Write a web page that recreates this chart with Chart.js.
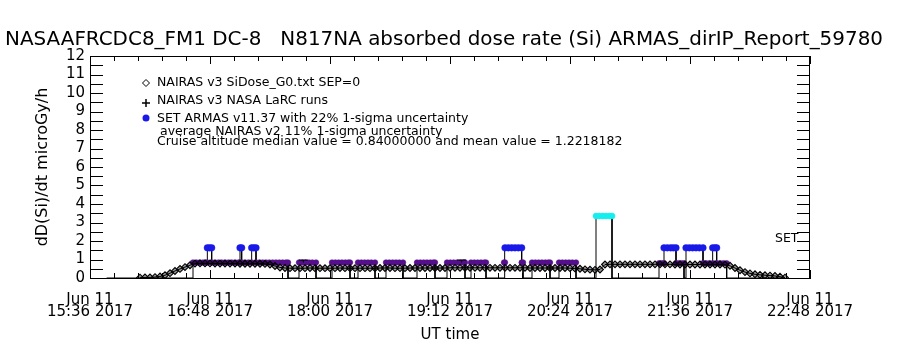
<!DOCTYPE html>
<html><head><meta charset="utf-8">
<script src="https://cdn.jsdelivr.net/npm/chart.js@4.4.1/dist/chart.umd.min.js"></script>
<style>html,body{margin:0;padding:0;background:#fff}#c{display:block}</style>
</head><body>
<div style="width:900px;height:350px"><canvas id="c" width="900" height="350"></canvas></div>
<script>
// ---------- texts ----------
const titleText = "NASAAFRCDC8_FM1 DC-8   N817NA absorbed dose rate (Si) ARMAS_dirIP_Report_59780";
const yTitle = "dD(Si)/dt microGy/h";
const xTitle = "UT time";
const setLabel = "SET";
const legendLines = [
  "NAIRAS v3 SiDose_G0.txt SEP=0",
  "NAIRAS v3 NASA LaRC runs",
  "SET ARMAS v11.37 with 22% 1-sigma uncertainty",
  "average NAIRAS v2 11% 1-sigma uncertainty",
  "Cruise altitude median value = 0.84000000 and mean value = 1.2218182"
];
// ---------- axes (x in minutes after Jun 11 15:36 UT) ----------
const xTickMinutes = [0, 72, 144, 216, 288, 360, 432];
const xTickLabels = [
  ["Jun 11", "15:36 2017"], ["Jun 11", "16:48 2017"], ["Jun 11", "18:00 2017"],
  ["Jun 11", "19:12 2017"], ["Jun 11", "20:24 2017"], ["Jun 11", "21:36 2017"],
  ["Jun 11", "22:48 2017"]
];
const yTickValues = [0,1,2,3,4,5,6,7,8,9,10,11,12];

// ---------- NAIRAS v3 SiDose_G0 (diamonds) ----------
const g0Time = [30,33,36,39,42,45,48,51,54,57,60,63,66,69,72,75,78,81,84,87,90,93,96,99,102,105,108,111,114,117,
  120,123,126,129,132,135,138,141,144,147,150,153,156,159,162,165,168,171,174,177,180,183,186,189,192,195,198,201,204,207,
  210,213,216,219,222,225,228,231,234,237,240,243,246,249,252,255,258,261,264,267,270,273,276,279,282,285,288,291,294,297,
  300,303,306,309,312,315,318,321,324,327,330,333,336,339,342,345,348,351,354,357,360,363,366,369,372,375,378,381,384,387,
  390,393,396,399,402,405,408,411,414,417];
const g0Dose = [0.02,0.03,0.03,0.05,0.08,0.15,0.26,0.38,0.49,0.59,0.69,0.78,0.79,0.79,0.79,0.78,0.78,0.78,0.78,0.78,0.77,0.77,0.77,0.77,0.77,0.76,0.73,0.65,0.57,0.54,
  0.53,0.53,0.53,0.53,0.54,0.53,0.53,0.53,0.53,0.53,0.54,0.53,0.53,0.53,0.53,0.53,0.53,0.53,0.54,0.54,0.54,0.53,0.53,0.53,0.54,0.54,0.54,0.54,0.54,0.54,
  0.54,0.54,0.55,0.55,0.55,0.55,0.55,0.55,0.55,0.55,0.55,0.55,0.55,0.55,0.55,0.55,0.55,0.55,0.54,0.54,0.54,0.54,0.54,0.54,0.54,0.54,0.53,0.52,0.50,0.47,
  0.45,0.44,0.46,0.73,0.74,0.74,0.74,0.74,0.74,0.74,0.74,0.74,0.74,0.74,0.74,0.74,0.74,0.73,0.73,0.73,0.73,0.73,0.73,0.73,0.73,0.73,0.73,0.72,0.66,0.54,
  0.42,0.32,0.25,0.20,0.17,0.15,0.13,0.11,0.07,0.02];

// ---------- NAIRAS v3 NASA LaRC runs ----------
const larcTime = [128, 223];
const larcDose = [0.97, 0.97];
const larcBase = 0.84;

// ---------- SET ARMAS v11.37 [minute, dose] ----------
const armasSamples = [[10,0],
  [61.8,0],[61.8,0.84],[63.8,0.84],[65.8,0.84],[67.8,0.84],[69.4,0.84],[70.4,0.84],
  [70.4,1.63],[71.7,1.63],[73,1.63],
  [73,0.84],[75,0.84],[77,0.84],[79,0.84],[81,0.84],[83,0.84],[85,0.84],[87,0.84],[89,0.84],[90,0.84],
  [90,1.63],[91,1.63],
  [91,0.84],[93,0.84],[95,0.84],[97,0.84],
  [97,1.63],[98.3,1.63],[99.6,1.63],
  [99.6,0.84],[101.6,0.84],[103.6,0.84],[105.6,0.84],[107.6,0.84],[109.6,0.84],[111.6,0.84],[113.6,0.84],[115.6,0.84],[117.6,0.84],[118.8,0.84],[118.8,0],
  [125.4,0],[125.4,0.84],[127.4,0.84],[129.4,0.84],[131.4,0.84],[133.4,0.84],[135.6,0.84],[135.6,0],
  [145.2,0],[145.2,0.84],[147.2,0.84],[149.2,0.84],[151.2,0.84],[153.2,0.84],[155,0.84],[156,0.84],[156,0],
  [160.8,0],[160.8,0.84],[162.8,0.84],[164.8,0.84],[166.8,0.84],[168.8,0.84],[171,0.84],[171,0],
  [177.6,0],[177.6,0.84],[179.6,0.84],[181.6,0.84],[183.6,0.84],[185.6,0.84],[187.8,0.84],[187.8,0],
  [196.2,0],[196.2,0.84],[198.2,0.84],[200.2,0.84],[202.2,0.84],[204.2,0.84],[206,0.84],[207,0.84],[207,0],
  [214.2,0],[214.2,0.84],[216.2,0.84],[218.2,0.84],[220.2,0.84],[222.2,0.84],[224,0.84],[225,0.84],[225,0],
  [228.6,0],[228.6,0.84],[230.6,0.84],[232.6,0.84],[234.6,0.84],[236.6,0.84],[237.6,0.84],[237.6,0],
  [248.4,0],[248.4,0.84],[249,0.84],[249,1.63],[251,1.63],[253,1.63],[255,1.63],[257,1.63],[259,1.63],[259,0.84],[259.8,0.84],[259.8,0],
  [265.2,0],[265.2,0.84],[267.2,0.84],[269.2,0.84],[271.2,0.84],[273.2,0.84],[275,0.84],[276,0.84],[276,0],
  [281.4,0],[281.4,0.84],[283.4,0.84],[285.4,0.84],[287.4,0.84],[289.4,0.84],[291.6,0.84],[291.6,0],
  [303.6,0],[303.6,3.35],[305.6,3.35],[307.6,3.35],[309.6,3.35],[311.6,3.35],[313.2,3.35],[313.2,0],
  [341.4,0],[341.4,0.8],[343,0.8],[344.4,0.8],[344.4,1.63],[346.4,1.63],[348.4,1.63],[350,1.63],[351.6,1.63],
  [351.6,0.8],[353.2,0.8],[354.8,0.8],[356.4,0.8],[356.4,0],
  [357.6,0],[357.6,1.63],[359.6,1.63],[361.6,1.63],[363.6,1.63],[365.6,1.63],[367.8,1.63],
  [367.8,0.8],[369.6,0.8],[371.6,0.8],[373.6,0.8],[373.6,1.63],[375,1.63],[376,1.63],
  [376,0.8],[378,0.8],[380,0.8],[382,0.8],[382,0],
  [416,0]];

// ---------- styling ----------
const FONT = "'DejaVu Sans', sans-serif";
const PURPLE = 'rgb(85,15,140)', BLUE = 'rgb(25,25,232)', CYAN = 'rgb(20,238,238)';
function doseColor(v){ return v > 2.5 ? CYAN : (v > 1.2 ? BLUE : PURPLE); }
function doseRadius(v){ return v > 2.5 ? 3 : (v > 1.2 ? 3.3 : (v > 0 ? 2.8 : 0)); }

Chart.defaults.font.family = FONT;
Chart.defaults.color = '#000';

const g0Data = g0Time.map((t, i) => ({x: t, y: g0Dose[i]}));
const armasData = armasSamples.map(p => ({x: p[0], y: p[1]}));
const larcData = [];
larcTime.forEach((t, i) => {
  if (i > 0) larcData.push({x: t - 1, y: null});
  larcData.push({x: t, y: larcBase});
  larcData.push({x: t, y: larcDose[i]});
});

const framePlugin = {
  id: 'frame',
  afterDraw(chart) {
    const ctx = chart.ctx, a = chart.chartArea, xs = chart.scales.x, ys = chart.scales.y;
    ctx.save();
    ctx.strokeStyle = '#000'; ctx.lineWidth = 1;
    ctx.beginPath();
    ctx.moveTo(a.left, a.top + 0.5); ctx.lineTo(a.right, a.top + 0.5);
    ctx.moveTo(a.right - 0.5, a.top); ctx.lineTo(a.right - 0.5, a.bottom);
    for (let k = 0; k <= 30; k++) {
      const v = k * 14.4;
      const px = Math.round(xs.getPixelForValue(v)) + 0.5;
      const len = (k % 5 === 0) ? 8 : 5;
      ctx.moveTo(px, a.top); ctx.lineTo(px, a.top + len);
      ctx.moveTo(px, a.bottom); ctx.lineTo(px, a.bottom - len);
    }
    for (let k = 0; k <= 24; k++) {
      const py = Math.round(ys.getPixelForValue(k * 0.5)) + 0.5;
      ctx.moveTo(a.left, py); ctx.lineTo(a.left + 13, py);
      ctx.moveTo(a.right, py); ctx.lineTo(a.right - 13, py);
    }
    ctx.stroke();

    // title (fitted to the reference width)
    ctx.fillStyle = '#000';
    ctx.font = "20px " + FONT;
    const tw = ctx.measureText(titleText).width;
    ctx.save(); ctx.translate(5, 45); ctx.scale(878 / tw, 1);
    ctx.textBaseline = 'alphabetic'; ctx.fillText(titleText, 0, 0); ctx.restore();

    // legend
    ctx.font = "12.5px " + FONT;
    ctx.textBaseline = 'alphabetic';
    const lx = [157, 157, 157, 160, 157];
    const ly = [85.5, 103.5, 122, 135, 144.5];
    legendLines.forEach((s, i) => ctx.fillText(s, lx[i], ly[i]));
    ctx.beginPath();
    ctx.moveTo(146, 79.5); ctx.lineTo(149.5, 83); ctx.lineTo(146, 86.5); ctx.lineTo(142.5, 83); ctx.closePath();
    ctx.stroke();
    ctx.beginPath();
    ctx.lineWidth = 1.5;
    ctx.moveTo(142, 103); ctx.lineTo(150, 103); ctx.moveTo(146, 99); ctx.lineTo(146, 107);
    ctx.stroke();
    ctx.fillStyle = BLUE;
    ctx.beginPath(); ctx.arc(146, 118, 3.5, 0, Math.PI * 2); ctx.fill();
    ctx.fillStyle = '#000';
    ctx.font = "12.5px " + FONT;
    ctx.fillText(setLabel, 775, 242);
    ctx.restore();
  }
};

new Chart(document.getElementById('c'), {
  type: 'line',
  data: {
    datasets: [
      {
        label: legendLines[2], data: armasData, order: 2,
        borderColor: '#000', borderWidth: 1, tension: 0,
        pointRadius: c => doseRadius(c.raw ? c.raw.y : 0),
        pointBackgroundColor: c => doseColor(c.raw ? c.raw.y : 0),
        pointBorderColor: c => doseColor(c.raw ? c.raw.y : 0),
        pointBorderWidth: 0.5, pointHoverRadius: 0
      },
      {
        label: legendLines[0], data: g0Data, order: 1,
        borderColor: '#000', borderWidth: 1, tension: 0,
        pointStyle: 'rectRot', pointRadius: 3.4, pointBorderWidth: 1.1,
        pointBorderColor: '#000', pointBackgroundColor: 'rgba(0,0,0,0.4)'
      },
      {
        label: legendLines[1], data: larcData, order: 0, spanGaps: false,
        borderColor: '#000', borderWidth: 1,
        pointStyle: 'line', pointBorderColor: '#000', pointBorderWidth: 1,
        pointRadius: c => (c.raw && c.raw.y > larcBase) ? 4.5 : 0
      }
    ]
  },
  options: {
    responsive: false, animation: false, devicePixelRatio: 1,
    layout: { padding: { left: 0, right: 90, top: 56, bottom: 0 } },
    plugins: { legend: { display: false }, title: { display: false }, tooltip: { enabled: false } },
    events: [],
    scales: {
      x: {
        type: 'linear', min: 0, max: 432,
        afterBuildTicks: s => { s.ticks = xTickMinutes.map(v => ({ value: v })); },
        afterFit: s => { s.height = 72; },
        ticks: {
          autoSkip: false, maxRotation: 0, minRotation: 0, padding: 16, color: '#000',
          font: { family: FONT, size: 15, lineHeight: 0.82 },
          callback: v => { const i = xTickMinutes.indexOf(v); return i >= 0 ? xTickLabels[i] : ''; }
        },
        grid: { display: false, drawTicks: false },
        border: { display: true, color: '#000', width: 1 },
        title: { display: true, text: xTitle, color: '#000', font: { family: FONT, size: 15 }, padding: { top: 0, bottom: 6 } }
      },
      y: {
        type: 'linear', min: 0, max: 12,
        afterBuildTicks: s => { s.ticks = yTickValues.map(v => ({ value: v })); },
        afterFit: s => { s.width = 90; },
        ticks: { autoSkip: false, padding: 5, color: '#000', font: { family: FONT, size: 15 } },
        grid: { display: false, drawTicks: false },
        border: { display: true, color: '#000', width: 1 },
        title: { display: true, text: yTitle, color: '#000', font: { family: FONT, size: 16 }, padding: { top: 33, bottom: 0 } }
      }
    }
  },
  plugins: [framePlugin]
});
</script>
</body></html>
